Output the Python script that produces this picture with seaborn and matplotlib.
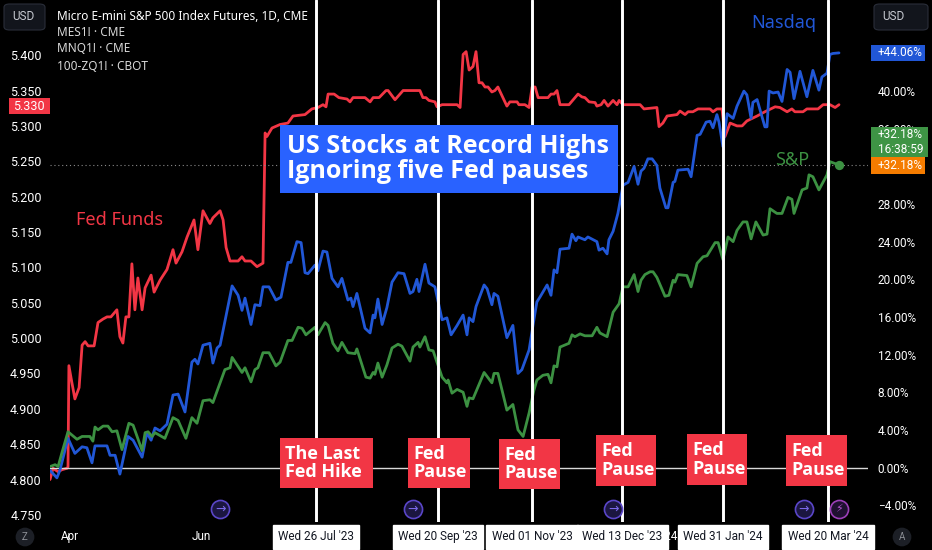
import pandas as pd
import seaborn as sns
import matplotlib.pyplot as plt
from matplotlib.patches import Rectangle, FancyBboxPatch

# session positions are counted from the first bar on the chart
nq_pos = [0, 2.3, 3.3, 6, 8.3, 10.7, 12.3, 14, 15, 19, 20, 21.7, 23.3, 26, 27.7, 30.7, 32.3, 33.7, 35, 36.7, 39, 41, 42.7, 45, 47.3, 48.3, 49.3, 51, 53.3, 54.3, 55.7, 56.7, 60.7, 62.7, 64, 65, 67, 68.3, 70, 71, 73, 75.3, 77, 79.3, 80.3, 82.3, 83.7, 85, 86, 88.3, 89.3, 91, 92.3, 94, 96, 97.3, 99.3, 100.3, 101, 102.3, 105, 106.7, 107.7, 108.3, 109.3, 110.7, 112.3, 114, 116, 118, 120, 121, 122.3, 123, 125, 126.3, 128.3, 130.7, 132.3, 133.7, 135.7, 137.7, 139, 139.7, 141, 142, 144.7, 145.7, 147.3, 148, 149.3, 152.3, 154.3, 156, 157.3, 159.7, 161.3, 162.3, 163.3, 165.7, 167, 168, 169, 170, 173, 174, 175.3, 176, 178.3, 179.3, 182.3, 183, 184.3, 185.7, 186.3, 187.7, 189.3, 191, 192.7, 194.7, 196, 197, 198, 199.3, 200.7, 202.3, 203.3, 205.3, 206, 207.7, 208.3, 209.3, 212.7, 213.7, 215.7, 216.7, 218.7, 220, 221, 222.3, 223, 224.3, 225.7, 227.7, 229, 231.3, 232.3, 233.7, 234.3, 235.7, 238.3, 239, 239.7, 241, 242.7, 244, 245.7, 246.7, 248, 250, 252.3, 254.3, 256.3, 257.3, 259, 260, 261, 263]
nq_pct = [-0.3, -1.1, -0.3, 3.1, 1.5, 2.2, 2.1, 0.5, 2.3, 2.3, 1.3, 1.3, -0.7, 3.3, 2.9, 1.1, 3.7, 2.9, 4.2, 3.9, 4.6, 7.7, 7.8, 5.9, 11.2, 11.5, 11.0, 13.0, 13.2, 11.1, 12.7, 13.0, 19.3, 18.3, 16.7, 18.0, 15.2, 17.3, 17.2, 19.2, 19.2, 17.8, 18.1, 21.8, 21.8, 24.0, 23.9, 20.7, 20.6, 21.5, 20.9, 23.0, 22.9, 20.1, 19.2, 20.1, 17.8, 18.0, 17.1, 18.5, 14.8, 14.3, 16.2, 15.9, 17.9, 15.2, 17.0, 19.7, 20.7, 20.6, 18.5, 18.7, 20.0, 18.7, 21.6, 19.6, 19.2, 15.7, 15.9, 14.1, 15.1, 16.2, 14.1, 15.9, 15.5, 17.1, 19.4, 19.0, 17.3, 18.5, 18.2, 13.8, 15.1, 10.0, 10.4, 12.5, 15.7, 17.6, 18.1, 19.4, 18.3, 21.0, 20.7, 23.2, 23.3, 24.8, 24.1, 24.5, 24.2, 24.5, 24.0, 23.1, 23.3, 22.7, 24.2, 25.1, 27.0, 30.0, 30.3, 32.0, 30.1, 31.5, 31.8, 32.8, 32.8, 32.1, 29.7, 27.6, 27.6, 30.3, 30.4, 31.6, 31.7, 30.9, 35.3, 35.4, 36.7, 36.8, 36.1, 37.5, 36.7, 34.1, 37.6, 37.1, 38.4, 40.0, 39.6, 37.1, 38.8, 39.1, 36.2, 36.2, 40.0, 39.8, 39.9, 38.9, 42.3, 42.0, 39.2, 42.1, 39.4, 42.2, 40.1, 41.5, 41.9, 43.9, 44.0, 44.06]

es_pos = [0, 1.7, 2.7, 4, 6, 9, 10.7, 13.3, 14.3, 15, 16, 17.7, 19.3, 20.7, 22.3, 24, 26.3, 27.7, 30.7, 31.7, 32.7, 34, 35, 38.3, 41, 42.7, 45.3, 47.3, 49, 51, 53.3, 54.3, 58.3, 60, 60.7, 64, 65, 67, 68.3, 69.3, 71, 73, 75.3, 76.7, 79.3, 80.7, 82.7, 84, 85.3, 88.3, 89.3, 91.7, 92.7, 94.3, 96, 97.3, 99.3, 101.7, 102.3, 105.3, 106.7, 107.7, 108.3, 109.3, 110.7, 112.3, 114, 116, 117.3, 120, 121, 122.7, 123.3, 125, 126.3, 127.7, 130.7, 132.3, 132.7, 134, 135.7, 137.7, 139, 139.7, 141, 144.7, 147.3, 148, 149.3, 152.3, 154.3, 156, 157.7, 159.7, 161.3, 162.3, 164.3, 166, 167, 168, 169, 170, 173, 174, 175, 176.7, 178.3, 180.7, 182.3, 183.3, 185.7, 187.7, 189.7, 191, 192.7, 194.7, 196, 197, 198.3, 200, 201, 202.3, 205, 206.3, 207.7, 208.3, 209.3, 212.3, 213.7, 215.7, 217.7, 219, 221.7, 222.7, 224.3, 226, 227.7, 229, 231, 232.3, 233.7, 235.3, 237.7, 239, 240, 242.3, 244, 246, 247.3, 248, 250.7, 252.3, 253, 254.3, 256.3, 259, 260, 261.7, 263]
es_pct = [0.1, 0.3, 0.1, 1.6, 3.8, 3.0, 3.3, 3.3, 2.8, 4.3, 4.0, 4.4, 4.4, 3.8, 3.9, 1.9, 4.7, 4.5, 1.8, 3.7, 3.8, 3.3, 3.7, 3.1, 5.3, 5.0, 3.1, 5.3, 4.7, 7.1, 7.2, 6.9, 10.4, 10.6, 11.7, 10.1, 10.6, 9.1, 10.4, 10.6, 12.2, 12.2, 10.8, 11.2, 13.5, 13.5, 14.9, 14.8, 14.1, 14.9, 14.1, 15.4, 15.1, 13.2, 12.4, 13.3, 12.2, 12.1, 12.6, 9.6, 9.5, 10.1, 9.9, 11.1, 9.6, 10.9, 12.7, 13.1, 12.9, 11.3, 12.8, 13.3, 12.8, 13.9, 12.5, 12.4, 9.6, 9.0, 9.3, 7.9, 8.3, 8.0, 6.5, 7.4, 7.3, 10.1, 9.0, 10.0, 10.0, 6.1, 6.7, 4.0, 3.3, 5.8, 8.2, 9.3, 9.8, 9.9, 9.0, 10.8, 10.7, 12.8, 13.2, 14.1, 13.9, 14.2, 14.0, 14.0, 14.9, 14.3, 13.9, 16.5, 17.4, 19.2, 19.2, 20.5, 18.7, 19.9, 20.5, 20.8, 20.8, 20.2, 18.2, 18.3, 19.9, 19.7, 20.5, 20.4, 19.2, 21.7, 22.4, 22.5, 23.9, 23.9, 22.1, 24.5, 24.0, 25.2, 26.1, 26.1, 24.3, 26.1, 24.7, 24.8, 27.5, 27.0, 27.0, 28.7, 28.5, 27.0, 29.5, 29.7, 31.1, 30.9, 29.5, 31.1, 32.5, 32.3, 32.18]

zq_pos = [0, 1, 2.7, 4, 5.7, 6, 6.3, 7.3, 8.3, 9.7, 10.7, 11.7, 12.7, 14.7, 16, 17.7, 19, 20.3, 22.3, 23.3, 24.3, 25.3, 26.3, 27.3, 28.3, 29.3, 30.7, 31.7, 33.7, 34.7, 36.7, 39, 41, 42, 44, 45.7, 48, 49.3, 51, 53.3, 54.3, 56.7, 57.7, 58.7, 60, 62.7, 64, 65, 67, 69, 71, 71.7, 72.3, 74, 76.7, 79.3, 81, 85, 87.3, 89.3, 91, 92, 92.7, 94.7, 96.3, 99, 100, 101, 105, 106.7, 107.7, 109.7, 112, 112.7, 115, 117.7, 123.3, 124.3, 125.3, 126.3, 128.3, 129, 130.7, 135.7, 136.7, 137.7, 138.7, 139.7, 141, 142, 143, 144, 145, 146, 147.3, 148.3, 149.3, 152.3, 153.3, 155.7, 156.3, 158.3, 159.7, 160.7, 161.7, 162.7, 166, 167, 168, 169, 170, 173, 176, 177.3, 178.3, 179.7, 181.7, 182.3, 183.7, 184.7, 186, 187.7, 189, 189.7, 191, 196.7, 198, 202.3, 203, 204.3, 205.7, 209, 210, 211.7, 212.7, 214.3, 216, 220, 221, 222.3, 224, 225, 226.7, 229, 230.7, 232.3, 235.7, 238.3, 241.7, 243.3, 245.7, 247.3, 248.3, 251, 252.3, 256, 257.7, 260, 261.7, 263]
zq_rate = [4.800, 4.816, 4.811, 4.814, 4.816, 4.818, 4.961, 4.937, 4.914, 4.930, 4.990, 4.995, 4.989, 4.989, 5.022, 5.027, 5.030, 5.030, 5.040, 5.002, 4.993, 5.030, 5.030, 5.105, 5.040, 5.085, 5.040, 5.071, 5.089, 5.065, 5.082, 5.097, 5.125, 5.106, 5.122, 5.143, 5.167, 5.125, 5.180, 5.162, 5.170, 5.180, 5.167, 5.128, 5.109, 5.109, 5.115, 5.109, 5.109, 5.101, 5.106, 5.290, 5.285, 5.297, 5.302, 5.304, 5.314, 5.316, 5.324, 5.326, 5.330, 5.327, 5.345, 5.345, 5.340, 5.338, 5.334, 5.340, 5.340, 5.334, 5.340, 5.340, 5.350, 5.350, 5.337, 5.350, 5.350, 5.340, 5.340, 5.336, 5.334, 5.327, 5.330, 5.330, 5.326, 5.401, 5.405, 5.379, 5.384, 5.405, 5.361, 5.361, 5.355, 5.355, 5.348, 5.350, 5.355, 5.328, 5.334, 5.334, 5.330, 5.330, 5.326, 5.355, 5.355, 5.340, 5.340, 5.345, 5.345, 5.350, 5.330, 5.330, 5.345, 5.341, 5.340, 5.334, 5.333, 5.328, 5.330, 5.336, 5.328, 5.336, 5.330, 5.336, 5.330, 5.330, 5.324, 5.326, 5.299, 5.304, 5.314, 5.316, 5.321, 5.316, 5.320, 5.320, 5.324, 5.324, 5.320, 5.324, 5.324, 5.285, 5.304, 5.300, 5.300, 5.307, 5.314, 5.320, 5.327, 5.326, 5.320, 5.324, 5.320, 5.320, 5.324, 5.324, 5.330, 5.330, 5.326, 5.330]

fed_pos = [88.7, 129.3, 160.7, 190.8, 224.3, 259.3]
fed_dates = ["Wed 26 Jul '23", "Wed 20 Sep '23", "Wed 01 Nov '23", "Wed 13 Dec '23", "Wed 31 Jan '24", "Wed 20 Mar '24"]
month_pos = [6.6, 50.4, 205, 247]
month_labels = ['Apr', 'Jun', '2024', 'Mar']
news_pos = [56.7, 121, 187.7, 251.3]
flash_pos = [263]
price_ticks = [4.75, 4.80, 4.85, 4.90, 4.95, 5.00, 5.05, 5.10, 5.15, 5.20, 5.25, 5.30, 5.35, 5.40]
pct_ticks = [-4, 0, 4, 8, 12, 16, 20, 24, 28, 36, 40]
last_pct = 32.18

RED = '#F23645'
BLUE = '#2157D6'
GREEN = '#3C9142'
WIDTH, HEIGHT = 932, 550

sns.set_theme(style='dark', rc={'figure.facecolor': 'black', 'axes.facecolor': 'black',
                                'axes.grid': False, 'text.color': 'white'})
plt.rcParams['font.family'] = ['Roboto', 'DejaVu Sans']


def px(x, y):
    return x / WIDTH, 1 - y / HEIGHT


def tag(x0, y0, x1, y1, text, color, size=8.5, weight='normal', pad=5, spacing=1.2, family='Roboto'):
    # filled label, given by its corners on the canvas
    fig.add_artist(Rectangle(px(x0, y1), (x1 - x0) / WIDTH, (y1 - y0) / HEIGHT,
                             transform=fig.transFigure, facecolor=color, edgecolor='none', zorder=5))
    fig.text(*px(x0 + pad, (y0 + y1) / 2), text, color='white', fontsize=size, fontweight=weight,
             family=family, ha='left', va='center', linespacing=spacing, zorder=6)


fig = plt.figure(figsize=(WIDTH / 100, HEIGHT / 100), dpi=100)
ax_fed = fig.add_axes([50 / WIDTH, 1 - 522 / HEIGHT, 818 / WIDTH, 522 / HEIGHT])
ax_pct = ax_fed.twinx()
ax_pct.patch.set_visible(False)

sns.lineplot(x=zq_pos, y=zq_rate, ax=ax_fed, color=RED, linewidth=2.0, estimator=None, sort=False)
sns.lineplot(x=nq_pos, y=nq_pct, ax=ax_pct, color=BLUE, linewidth=2.0, estimator=None, sort=False, zorder=3)
sns.lineplot(x=es_pos, y=es_pct, ax=ax_pct, color=GREEN, linewidth=2.0, estimator=None, sort=False, zorder=3)
sns.scatterplot(x=es_pos[-1:], y=es_pct[-1:], ax=ax_pct, color=GREEN, s=45, linewidth=0, zorder=4)

ax_pct.axhline(0, color='#D8D8D8', linewidth=1, zorder=2)
ax_pct.axhline(last_pct, color='#8A8A8A', linewidth=0.8, linestyle=(0, (1, 2.5)), zorder=2)
for pos in fed_pos:
    ax_pct.axvline(pos, color='white', linewidth=2.1, zorder=5)

ax_fed.set_xlim(0, 818 / 3)
ax_fed.set_ylim(4.740, 5.478)
ax_pct.set_ylim(-5.79, 49.68)

# pause dates sit last so their white boxes cover the month labels
ax_fed.set_xticks(month_pos + fed_pos)
ax_fed.set_xticklabels(month_labels + fed_dates)
ax_fed.tick_params(axis='x', length=0, pad=6, labelsize=8.5, labelcolor='white')
for label, text in zip(ax_fed.get_xticklabels(), month_labels + fed_dates):
    if text in fed_dates:
        label.set_color('#131722')
        label.set_bbox(dict(facecolor='white', edgecolor='white', boxstyle='square,pad=0.45'))

ax_fed.set_yticks(price_ticks)
ax_fed.set_yticklabels([f'{v:.3f}' for v in price_ticks])
ax_fed.tick_params(axis='y', length=0, pad=6, labelsize=9, labelcolor='white')
ax_pct.set_yticks(pct_ticks)
ax_pct.set_yticklabels([f'{v:.2f}%'.replace('-', '\u2212') for v in pct_ticks])
ax_pct.tick_params(axis='y', length=0, pad=7, labelsize=8.5, labelcolor='white')
for axis in (ax_fed, ax_pct):
    axis.set_xlabel('')
    axis.set_ylabel('')
    sns.despine(ax=axis, left=True, right=True, top=True, bottom=True)

# event icons along the bottom
icon_y = [-4.42] * len(news_pos)
sns.scatterplot(x=news_pos, y=icon_y, ax=ax_pct, s=170, color='#1B1640', edgecolor='#5A46C8',
                linewidth=1.2, zorder=6, clip_on=False)
sns.scatterplot(x=flash_pos, y=icon_y[:1], ax=ax_pct, s=170, color='#1F1030', edgecolor='#9C3FB8',
                linewidth=1.2, zorder=6, clip_on=False)
for pos in news_pos:
    ax_pct.text(pos, -4.42, '\u2192', color='#7A68E8', fontsize=9, family='DejaVu Sans',
                ha='center', va='center', zorder=7)
for pos in flash_pos:
    ax_pct.text(pos, -4.42, '\u26a1', color='#B455D0', fontsize=8, family='DejaVu Sans',
                ha='center', va='center', zorder=7)

# chart header
fig.text(*px(57, 16), 'Micro E-mini S&P 500 Index Futures, 1D, CME', color='white', fontsize=8.5,
         family='Noto Sans', va='center')
fig.text(*px(57, 33), 'MES1! \u00b7 CME', color='#D8D8D8', fontsize=8.5, family='Noto Sans', va='center')
fig.text(*px(57, 49), 'MNQ1! \u00b7 CME', color='#D8D8D8', fontsize=8.5, family='Noto Sans', va='center')
fig.text(*px(57, 66), '100-ZQ1! \u00b7 CBOT', color='#D8D8D8', fontsize=8.5, family='Noto Sans', va='center')

# hand drawn labels
fig.text(*px(76, 220), 'Fed Funds', color=RED, fontsize=13, family='Noto Sans', va='center')
fig.text(*px(751, 23), 'Nasdaq', color=BLUE, fontsize=13, family='Noto Sans', va='center')
fig.text(*px(775, 160), 'S&P', color=GREEN, fontsize=13, family='Noto Sans', va='center')

tag(280, 125, 618, 193, 'US Stocks at Record Highs\nIgnoring five Fed pauses', '#2962FF',
    size=18, weight='bold', pad=7, spacing=1.05, family='Open Sans')
for x0, y0, x1, y1, text in ((280, 438, 373, 488, 'The Last\nFed Hike'), (408, 438, 470, 488, 'Fed\nPause'),
                             (499, 439, 560, 489, 'Fed\nPause'), (596, 435, 656, 486, 'Fed\nPause'),
                             (687, 434, 747, 485, 'Fed\nPause'), (786, 435, 847, 486, 'Fed\nPause')):
    tag(x0, y0, x1, y1, text, RED, size=13, weight='bold', spacing=1.05, family='Open Sans')

# price tags on the scales
tag(9, 98, 50, 114, '5.330', RED, pad=4, size=9)
tag(871, 45, 925, 61, '+44.06%', '#2157D6', pad=7)
tag(871, 127, 928, 157, '+32.18%\n16:38:59', '#3E9445', pad=7)
tag(871, 157, 925, 174, '+32.18%', '#F57C00', pad=7)

# scale buttons and corner badges
for x0, x1 in ((4, 45), (874, 928)):
    fig.add_artist(FancyBboxPatch(px(x0, 30), (x1 - x0) / WIDTH, 26 / HEIGHT, transform=fig.transFigure,
                                  boxstyle='round,pad=0,rounding_size=0.006', facecolor='#12151C',
                                  edgecolor='#2A2E39', linewidth=0.8, zorder=5))
    fig.text(*px(x0 + 8, 17), 'USD', color='#C8CBD2', fontsize=8.5, va='center', zorder=6)
for x, letter in ((25, 'Z'), (902, 'A')):
    fig.text(*px(x, 537), letter, color='#8C8F96', fontsize=7, ha='center', va='center', zorder=6,
             bbox=dict(boxstyle='circle,pad=0.45', facecolor='#1C1F26', edgecolor='none'))

fig.savefig('out.png', dpi=100, facecolor='black')
